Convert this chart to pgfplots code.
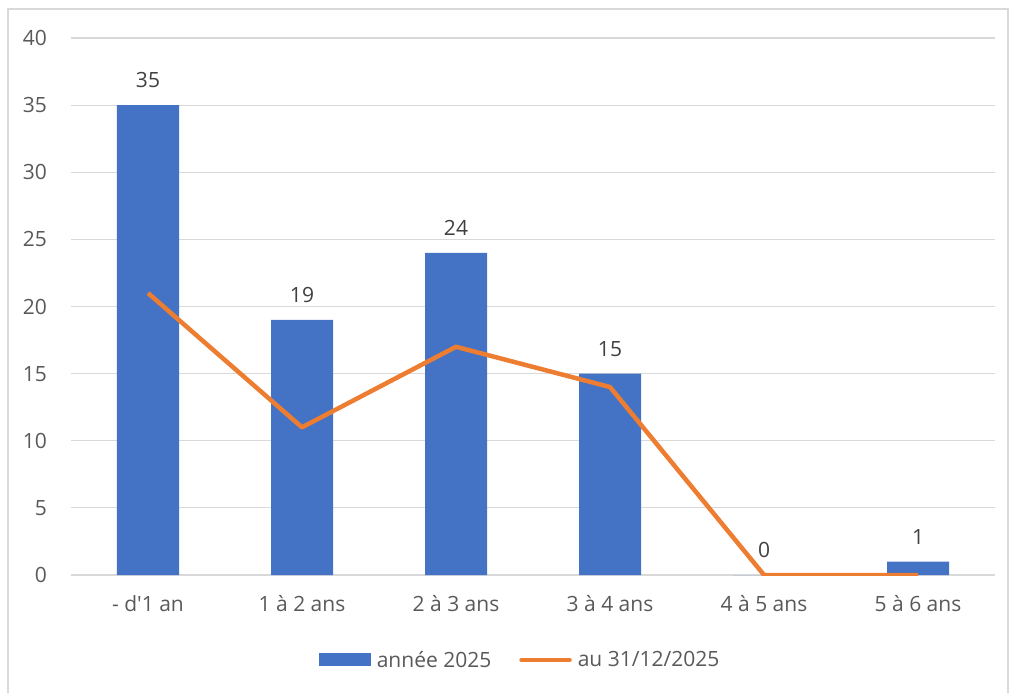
\documentclass[border=0pt]{standalone}
\usepackage{pgfplots}
\pgfplotsset{compat=1.18}
\usepackage{fontspec}
\setmainfont{Open Sans}
\definecolor{barblue}{HTML}{4472C4}
\definecolor{lineorange}{HTML}{ED7D31}
\definecolor{gridgray}{HTML}{D9D9D9}
\definecolor{ticktext}{HTML}{595959}
\definecolor{labeltext}{HTML}{404040}
\newcommand{\chartfont}{\fontsize{21}{25}\selectfont}
\begin{document}
\begin{tikzpicture}[x=1pt,y=1pt]
\useasboundingbox (-71,-118) rectangle (938,575);
\draw[gridgray, line width=1.2pt] (-63,-130) rectangle (937,566);
\begin{axis}[
  at={(0,0)}, anchor=south west, scale only axis,
  width=924pt, height=537pt,
  xmin=-0.5, xmax=5.5, ymin=0, ymax=40,
  ytick={0,5,...,40},
  xtick={0,1,2,3,4,5},
  xticklabels={- d\textquotesingle 1 an, 1 à 2 ans, 2 à 3 ans, 3 à 4 ans, 4 à 5 ans, 5 à 6 ans},
  axis line style={draw=none},
  major tick length=0pt,
  ymajorgrids, grid style={gridgray, line width=1.2pt},
  /pgf/number format/assume math mode=true,
  tick label style={font=\chartfont, text=ticktext, inner sep=0pt},
  yticklabel style={anchor=east, xshift=-24pt},
  xticklabel style={anchor=north, yshift=-20pt},
  legend style={at={(0.486,-0.158)}, anchor=center, draw=none, fill=none,
    font=\chartfont, text=ticktext, legend columns=2,
    /tikz/every odd column/.append style={column sep=4pt},
    /tikz/every even column/.append style={column sep=26pt},
    legend cell align=left},
]
\addplot[ybar, bar width=62pt, fill=barblue, draw=none,
  nodes near coords,
  nodes near coords style={font=\chartfont, text=labeltext, inner sep=0pt, anchor=south, yshift=17pt},
  legend image code/.code={\fill[barblue] (0pt,-6.5pt) rectangle (52pt,6.5pt);}]
  coordinates {(0,35) (1,19) (2,24) (3,15) (4,0) (5,1)};
\addlegendentry{année 2025}
\addplot[lineorange, line width=4.5pt, line join=round, mark=none,
  legend image code/.code={\draw[lineorange, line width=4.5pt, line cap=round] (2pt,0pt) -- (50pt,0pt);}]
  coordinates {(0,21) (1,11) (2,17) (3,14) (4,0) (5,0)};
\addlegendentry{au 31/12/2025}
\end{axis}
\end{tikzpicture}
\end{document}
